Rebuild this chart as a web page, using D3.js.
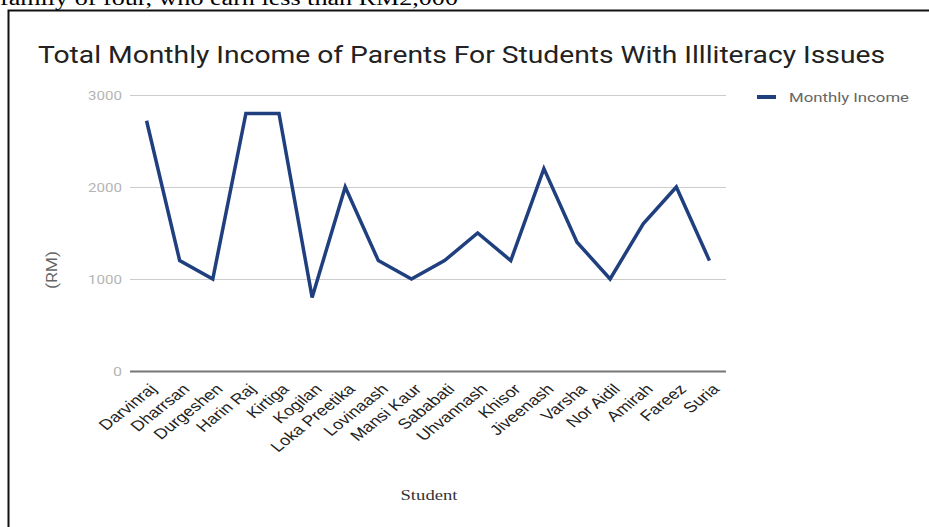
<!DOCTYPE html>
<meta charset="utf-8">
<script src="https://d3js.org/d3.v7.min.js"></script>
<style>
body{ margin:0; background:#fff; }
svg{ display:block; }
</style>

<div id="my_dataviz"></div>

<script>

// data
var students = ["Darvinraj", "Dharrsan", "Durgeshen", "Harin Raj", "Kirtiga", "Kogilan",
  "Loka Preetika", "Lovinaash", "Mansi Kaur", "Sababati", "Uhvannash", "Khisor",
  "Jiveenash", "Varsha", "Nor Aidil", "Amirah", "Fareez", "Suria"];
var income = [2720, 1200, 1000, 2800, 2800, 800, 2000, 1200, 1000, 1200, 1500, 1200,
  2200, 1400, 1000, 1600, 2000, 1200];
var yTicks = [0, 1000, 2000, 3000];

var width = 929, height = 527;
var plot = {left: 130, right: 726, top: 95, bottom: 371};
var stretch = 1.25; // the screenshot is wider than tall

var svg = d3.select("#my_dataviz")
  .append("svg")
    .attr("width", width)
    .attr("height", height);

// cut off line of the surrounding document
svg.append("text")
  .attr("x", 0)
  .attr("y", 5)
  .attr("textLength", 458)
  .attr("lengthAdjust", "spacingAndGlyphs")
  .style("font-family", "Liberation Serif")
  .style("font-size", "20px")
  .style("fill", "#000")
  .text("family of four, who earn less than RM2,000");

// frame
svg.append("path")
  .attr("d", "M8.5," + height + "V10.5H" + width)
  .style("fill", "none")
  .style("stroke", "#111")
  .style("stroke-width", 2);

svg.append("text")
  .attr("x", 38)
  .attr("y", 63)
  .attr("textLength", 847)
  .attr("lengthAdjust", "spacingAndGlyphs")
  .style("font-family", "Roboto")
  .style("font-size", "23.5px")
  .style("fill", "#222")
  .text("Total Monthly Income of Parents For Students With Illliteracy Issues");

var x = d3.scaleBand()
  .domain(students)
  .range([plot.left, plot.right]);

var y = d3.scaleLinear()
  .domain([0, 3000])
  .range([plot.bottom, plot.top]);

// grid
var yAxis = svg.append("g")
  .attr("transform", "translate(" + plot.left + ",0)")
  .call(d3.axisLeft(y).tickValues(yTicks).tickFormat(d3.format("d"))
    .tickSize(-(plot.right - plot.left)).tickPadding(8));
yAxis.select(".domain").remove();
yAxis.selectAll("line")
  .style("stroke", function(d){ return d === 0 ? "#777" : "#ccc"; })
  .style("stroke-width", function(d){ return d === 0 ? 2 : 1; });
yAxis.selectAll("text")
  .attr("textLength", function(d){ return d === 0 ? 9 : 34; })
  .attr("lengthAdjust", "spacingAndGlyphs")
  .style("font-family", "Roboto")
  .style("font-size", "13.5px")
  .style("fill", "#b5b5b5");

svg.append("text")
  .attr("transform", "translate(57,270) rotate(-90)")
  .attr("textLength", 38)
  .attr("lengthAdjust", "spacingAndGlyphs")
  .style("text-anchor", "middle")
  .style("font-family", "Roboto")
  .style("font-size", "15px")
  .style("fill", "#666")
  .text("(RM)");

// x labels, rotated then stretched sideways like the reference
svg.append("g")
  .selectAll("text")
  .data(students)
  .enter()
  .append("text")
    .attr("transform", function(d){
      return "translate(" + (x(d) + x.bandwidth() / 2 + 11) + ",390) scale(" + stretch + ",1) rotate(-45)";
    })
    .style("text-anchor", "end")
    .style("font-family", "Liberation Sans")
    .style("font-size", "14.5px")
    .style("fill", "#222")
    .text(function(d){ return d; });

svg.append("text")
  .attr("x", 429)
  .attr("y", 500)
  .attr("textLength", 57)
  .attr("lengthAdjust", "spacingAndGlyphs")
  .style("text-anchor", "middle")
  .style("font-family", "Liberation Serif")
  .style("font-size", "15px")
  .style("fill", "#333")
  .text("Student");

// line
var line = d3.line()
  .x(function(d, i){ return x(students[i]) + x.bandwidth() / 2; })
  .y(function(d){ return y(d); });

svg.append("path")
  .datum(income)
  .attr("d", line)
  .style("fill", "none")
  .style("stroke", "#1f3f7f")
  .style("stroke-width", 3.5)
  .style("stroke-linejoin", "miter");

// legend
svg.append("line")
  .attr("x1", 757).attr("x2", 776)
  .attr("y1", 97).attr("y2", 97)
  .style("stroke", "#1f3f7f")
  .style("stroke-width", 4);
svg.append("text")
  .attr("x", 789)
  .attr("y", 102)
  .attr("textLength", 120)
  .attr("lengthAdjust", "spacingAndGlyphs")
  .style("font-family", "Roboto")
  .style("font-size", "13.5px")
  .style("fill", "#666")
  .text("Monthly Income");

</script>
